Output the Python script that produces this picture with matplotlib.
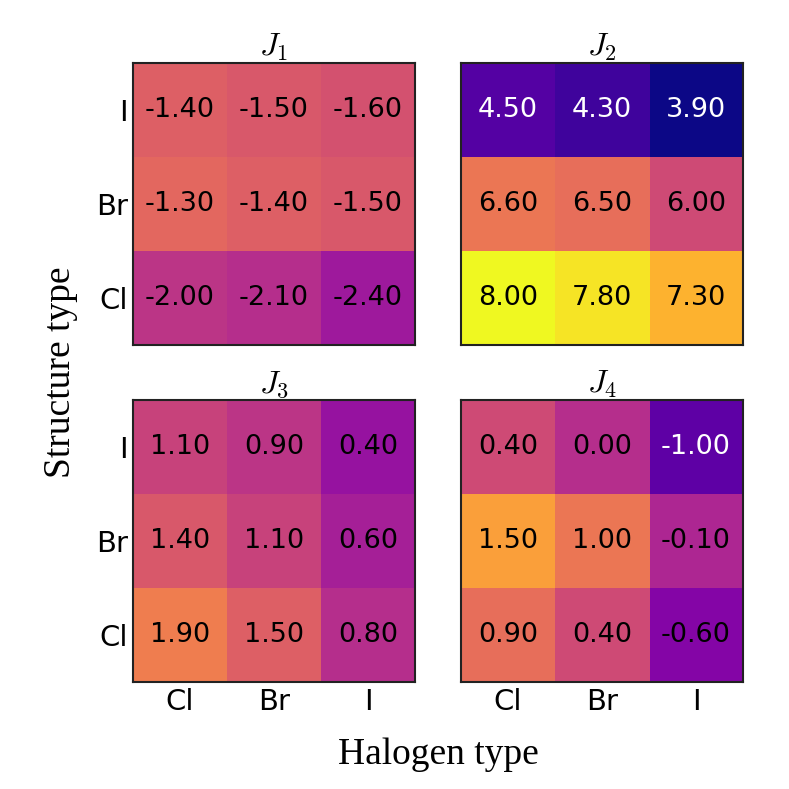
import matplotlib
matplotlib.use("Agg")
import matplotlib.pyplot as plt
import numpy as np

halogens = ["Cl", "Br", "I"]
structures = ["Cl", "Br", "I"]  # bottom to top

# rows = structure type (Cl, Br, I), columns = halogen type (Cl, Br, I)
J1 = [[-2.0, -2.1, -2.4],
      [-1.3, -1.4, -1.5],
      [-1.4, -1.5, -1.6]]
J2 = [[8.0, 7.8, 7.3],
      [6.6, 6.5, 6.0],
      [4.5, 4.3, 3.9]]
J3 = [[1.9, 1.5, 0.8],
      [1.4, 1.1, 0.6],
      [1.1, 0.9, 0.4]]
J4 = [[0.9, 0.4, -0.6],
      [1.5, 1.0, -0.1],
      [0.4, 0.0, -1.0]]

panels = [J1, J2, J3, J4]
titles = [r"$J_1$", r"$J_2$", r"$J_3$", r"$J_4$"]
vmins = [-3.8, 3.9, -0.9, -1.7]
span = 4.1

plt.rcParams['mathtext.fontset'] = 'cm'

fig = plt.figure(figsize=(7.89, 7.89), dpi=100)
W = 282 / 789
lefts = [133 / 789, 461 / 789]
bottoms = [(789 - 345) / 789, (789 - 682) / 789]

for k, data in enumerate(panels):
    r, c = divmod(k, 2)
    ax = fig.add_axes([lefts[c], bottoms[r], W, W])
    arr = np.array(data)
    vmin = vmins[k]
    vmax = vmin + span
    ax.imshow(arr, cmap='plasma', vmin=vmin, vmax=vmax, origin='lower', aspect='auto')
    for i in range(3):
        for j in range(3):
            t = (arr[i, j] - vmin) / span
            col = 'white' if t < 0.25 else 'black'
            ax.text(j, i, "%.2f" % arr[i, j], ha='center', va='center',
                    fontsize=19.5, color=col)
    ax.set_title(titles[k], fontsize=23, pad=5)
    ax.tick_params(length=0, labelsize=21)
    ax.tick_params(axis='y', pad=3.5)
    ax.tick_params(axis='x', pad=4.5)
    ax.set_xticks(range(3))
    ax.set_yticks(range(3))
    if r == 1:
        ax.set_xticklabels(halogens)
    else:
        ax.set_xticklabels([])
    if c == 0:
        ax.set_yticklabels(structures)
    else:
        ax.set_yticklabels([])
    for s in ax.spines.values():
        s.set_linewidth(1.5)
        s.set_color('#222222')

fig.text(438 / 789, 1 - 755 / 789, "Halogen type", ha='center', va='center',
         fontsize=27, family='Liberation Serif')
fig.text(61 / 789, 1 - 372 / 789, "Structure type", ha='center', va='center',
         fontsize=27, family='Liberation Serif', rotation=90)

fig.savefig("out.png", dpi=100)
